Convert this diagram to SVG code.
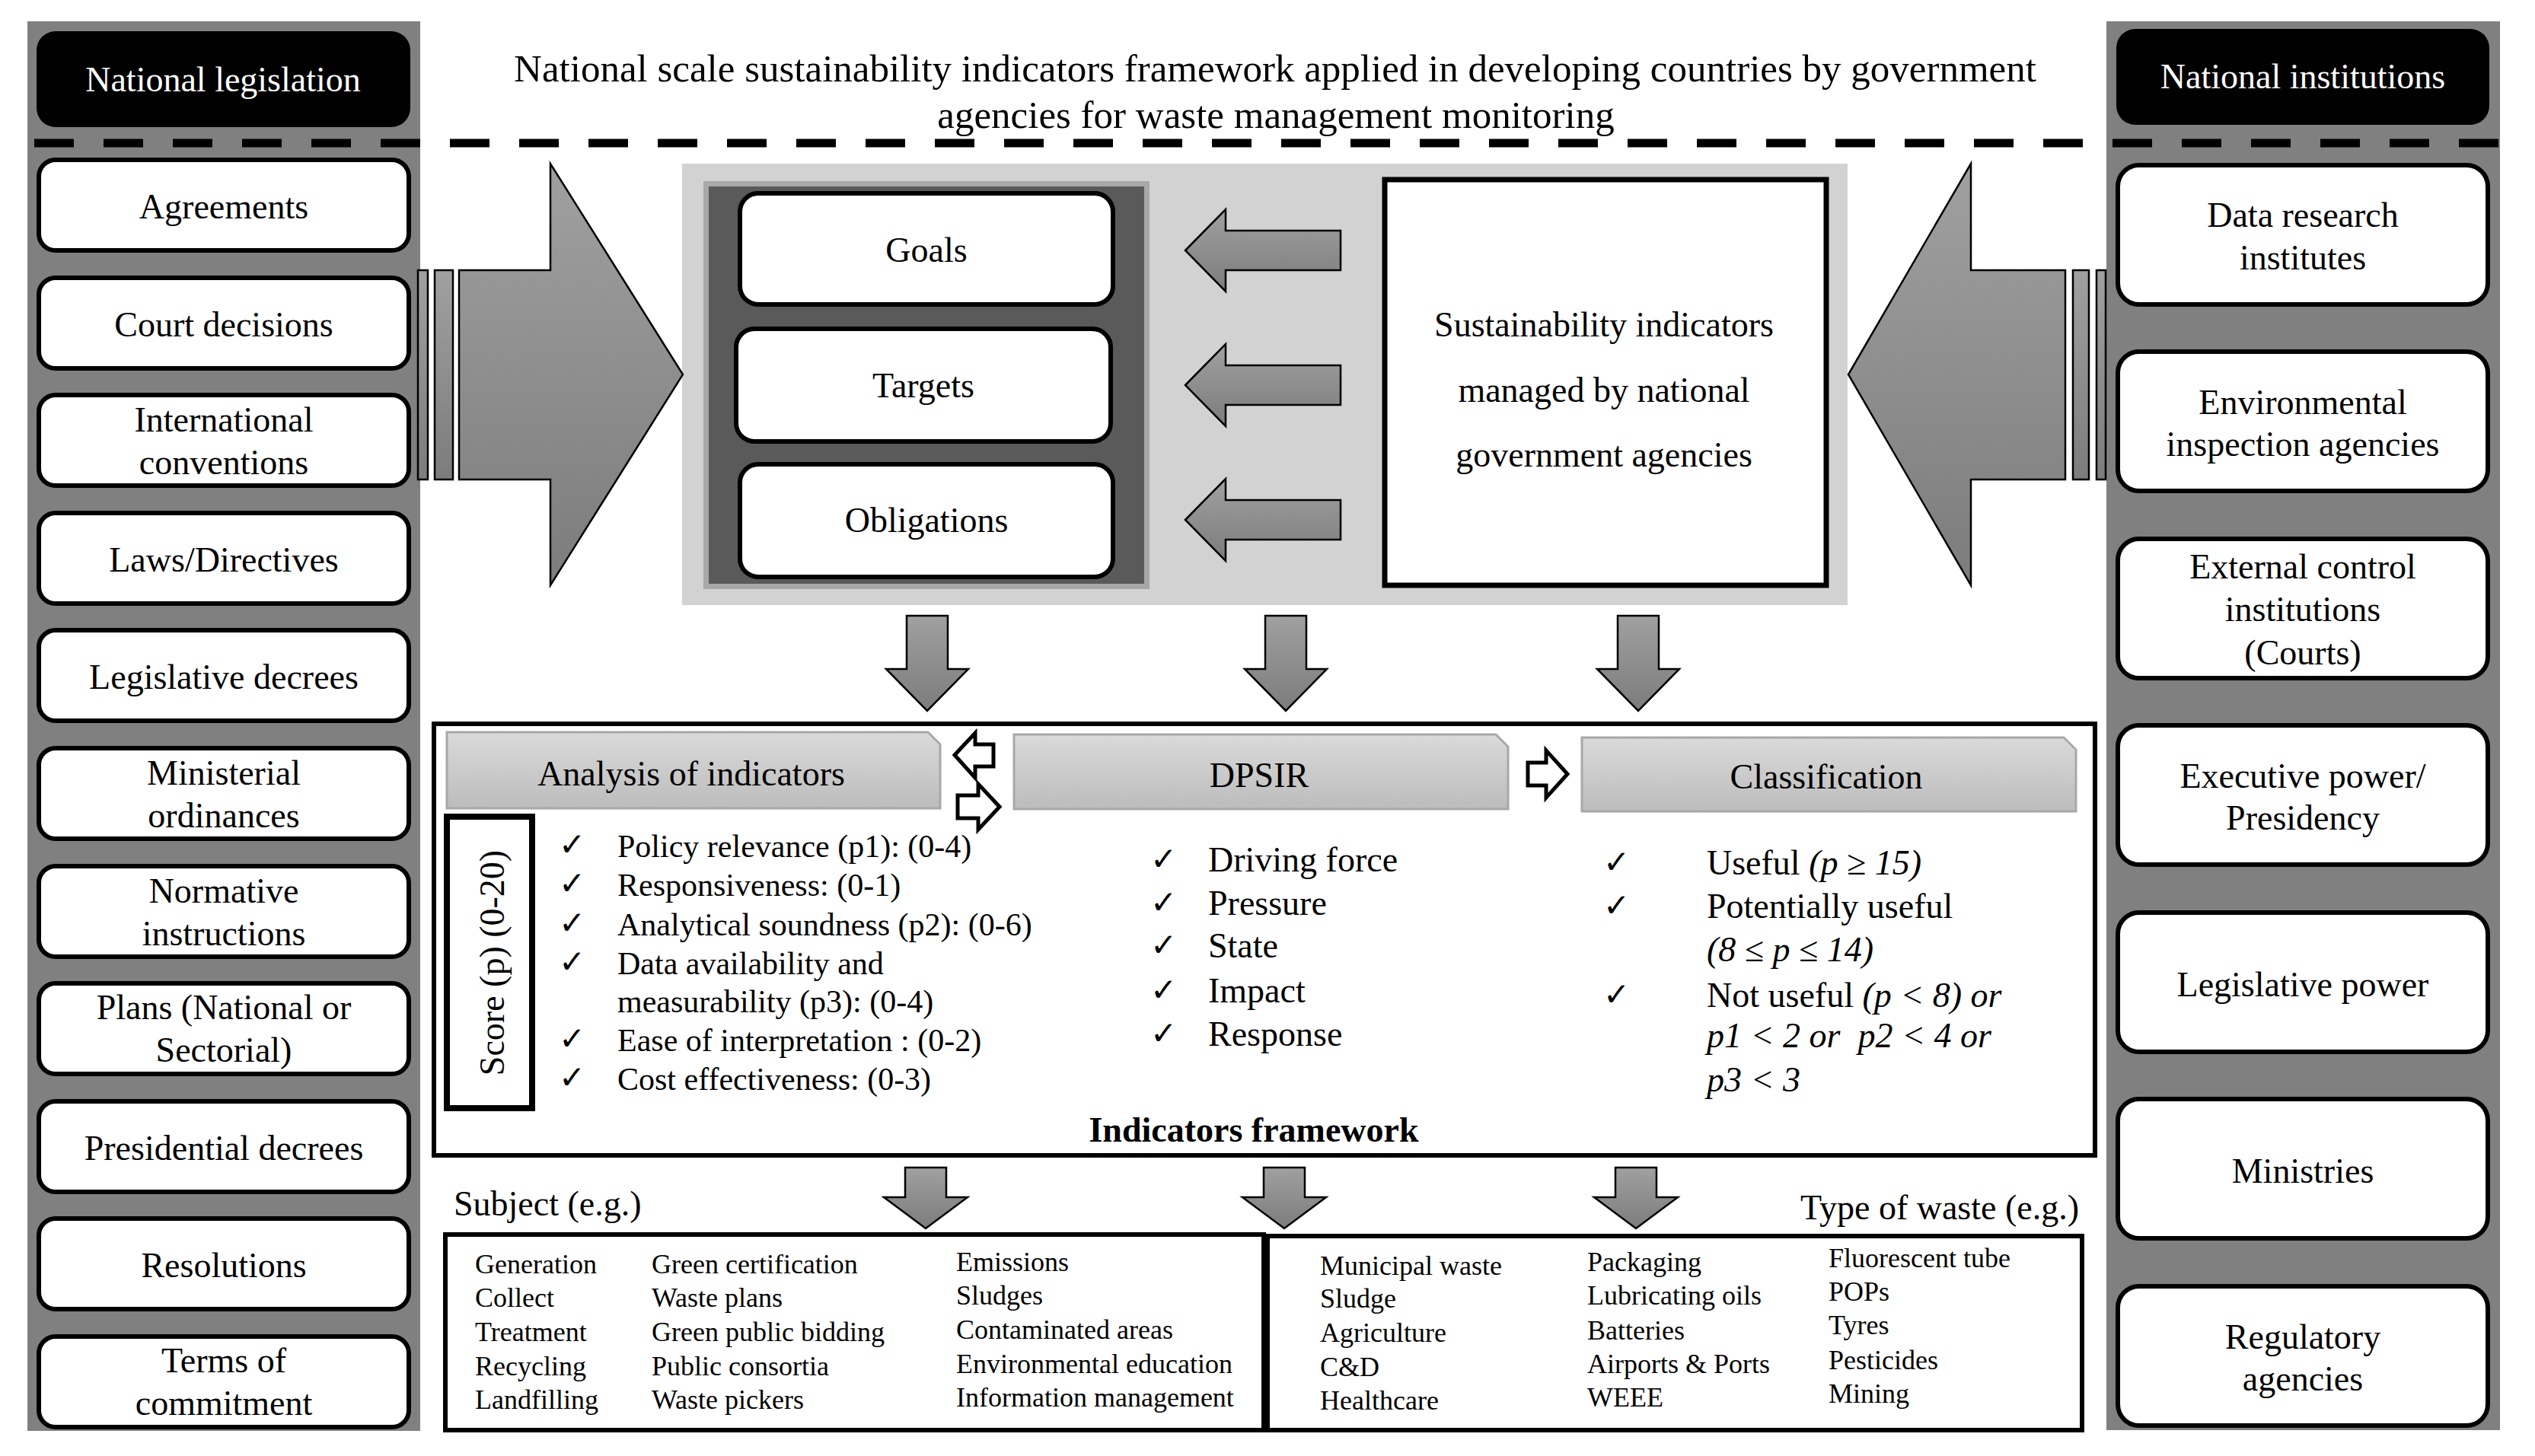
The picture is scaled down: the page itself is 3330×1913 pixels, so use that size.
<svg xmlns="http://www.w3.org/2000/svg" width="3330" height="1913" viewBox="0 0 3330 1913">
<defs>
<linearGradient id="ga" x1="0" y1="0" x2="0" y2="1"><stop offset="0" stop-color="#a0a0a0"/><stop offset="1" stop-color="#7c7c7c"/></linearGradient>
<linearGradient id="gh" x1="0" y1="0" x2="0" y2="1"><stop offset="0" stop-color="#dadada"/><stop offset="1" stop-color="#bcbcbc"/></linearGradient>
</defs>
<style>
text{font-family:"Liberation Serif","Times New Roman",serif;fill:#000}
.lbl{font-size:46px;text-anchor:middle}
.wh{fill:#fff}
.box{fill:#fff;stroke:#000;stroke-width:6}
.panel{fill:#808080}
.arr{fill:url(#ga);stroke:#000;stroke-width:2.5;stroke-linejoin:miter}
.oarr{fill:#fff;stroke:#000;stroke-width:5;stroke-linejoin:miter}
.hdr{fill:url(#gh);stroke:#a8a8a8;stroke-width:3}
.it{font-size:42px}
.it46{font-size:46px}
.ck{font-family:"DejaVu Sans",sans-serif;font-size:42px}
.tb{font-size:36px}
.frame{fill:none;stroke:#000;stroke-width:6}
</style>
<rect width="3330" height="1913" fill="#fff"/>

<g id="left-panel">
<rect class="panel" x="36" y="28" width="516" height="1852"/>
<g id="national-legislation"><rect x="48" y="41" width="491" height="126" rx="25" fill="#000"/><text class="lbl wh" x="293" y="120">National legislation</text></g>
<g id="agreements"><rect class="box" x="51" y="210" width="486" height="119" rx="22"/><text class="lbl" x="294" y="287">Agreements</text></g>
<g id="court-decisions"><rect class="box" x="51" y="365" width="486" height="119" rx="22"/><text class="lbl" x="294" y="442">Court decisions</text></g>
<g id="international-conventions"><rect class="box" x="51" y="519" width="486" height="119" rx="22"/><text class="lbl" x="294" y="567">International</text><text class="lbl" x="294" y="623">conventions</text></g>
<g id="laws-directives"><rect class="box" x="51" y="674" width="486" height="119" rx="22"/><text class="lbl" x="294" y="751">Laws/Directives</text></g>
<g id="legislative-decrees"><rect class="box" x="51" y="828" width="486" height="119" rx="22"/><text class="lbl" x="294" y="905">Legislative decrees</text></g>
<g id="ministerial-ordinances"><rect class="box" x="51" y="983" width="486" height="119" rx="22"/><text class="lbl" x="294" y="1031">Ministerial</text><text class="lbl" x="294" y="1087">ordinances</text></g>
<g id="normative-instructions"><rect class="box" x="51" y="1138" width="486" height="119" rx="22"/><text class="lbl" x="294" y="1186">Normative</text><text class="lbl" x="294" y="1242">instructions</text></g>
<g id="plans"><rect class="box" x="51" y="1292" width="486" height="119" rx="22"/><text class="lbl" x="294" y="1339">Plans (National or</text><text class="lbl" x="294" y="1395">Sectorial)</text></g>
<g id="presidential-decrees"><rect class="box" x="51" y="1447" width="486" height="119" rx="22"/><text class="lbl" x="294" y="1524">Presidential decrees</text></g>
<g id="resolutions"><rect class="box" x="51" y="1601" width="486" height="119" rx="22"/><text class="lbl" x="294" y="1678">Resolutions</text></g>
<g id="terms-of-commitment"><rect class="box" x="51" y="1756" width="486" height="119" rx="22"/><text class="lbl" x="294" y="1803">Terms of</text><text class="lbl" x="294" y="1859">commitment</text></g>
</g>

<g id="right-panel">
<rect class="panel" x="2767" y="28" width="517" height="1851"/>
<g id="national-institutions"><rect x="2780" y="38" width="490" height="126" rx="25" fill="#000"/><text class="lbl wh" x="3025" y="116">National institutions</text></g>
<g id="data-research"><rect class="box" x="2782" y="217" width="486" height="183" rx="28"/><text class="lbl" x="3025" y="298">Data research</text><text class="lbl" x="3025" y="354">institutes</text></g>
<g id="environmental-inspection"><rect class="box" x="2782" y="462" width="486" height="183" rx="28"/><text class="lbl" x="3025" y="544">Environmental</text><text class="lbl" x="3025" y="599">inspection agencies</text></g>
<g id="external-control"><rect class="box" x="2782" y="708" width="486" height="183" rx="28"/><text class="lbl" x="3025" y="760">External control</text><text class="lbl" x="3025" y="816">institutions</text><text class="lbl" x="3025" y="873">(Courts)</text></g>
<g id="executive-power"><rect class="box" x="2782" y="953" width="486" height="183" rx="28"/><text class="lbl" x="3025" y="1035">Executive power/</text><text class="lbl" x="3025" y="1090">Presidency</text></g>
<g id="legislative-power"><rect class="box" x="2782" y="1199" width="486" height="183" rx="28"/><text class="lbl" x="3025" y="1309">Legislative power</text></g>
<g id="ministries"><rect class="box" x="2782" y="1444" width="486" height="183" rx="28"/><text class="lbl" x="3025" y="1554">Ministries</text></g>
<g id="regulatory-agencies"><rect class="box" x="2782" y="1690" width="486" height="183" rx="28"/><text class="lbl" x="3025" y="1772">Regulatory</text><text class="lbl" x="3025" y="1827">agencies</text></g>
</g>

<g id="title">
<text style="font-size:51px;text-anchor:middle" x="1675" y="107">National scale sustainability indicators framework applied in developing countries by government</text>
<text style="font-size:51px;text-anchor:middle" x="1676" y="168">agencies for waste management monitoring</text>
</g>
<line x1="45" y1="188" x2="3294" y2="188" stroke="#000" stroke-width="11" stroke-dasharray="52 39"/>

<g id="policy-block">
<rect x="896" y="215" width="1531" height="580" fill="#d2d2d2"/>
<rect x="927.5" y="241.5" width="579" height="529" fill="#5a5a5a" stroke="#a8a8a8" stroke-width="7"/>
<g id="goals"><rect class="box" x="972" y="254" width="490" height="146" rx="24"/><text class="lbl" x="1217" y="344">Goals</text></g>
<g id="targets"><rect class="box" x="967" y="432" width="492" height="148" rx="24"/><text class="lbl" x="1213" y="522">Targets</text></g>
<g id="obligations"><rect class="box" x="972" y="610" width="490" height="148" rx="24"/><text class="lbl" x="1217" y="699">Obligations</text></g>
<g id="sustainability-indicators"><rect x="1819" y="236" width="580" height="533" fill="#fff" stroke="#000" stroke-width="7"/>
<text class="lbl" x="2107" y="442">Sustainability indicators</text>
<text class="lbl" x="2107" y="528">managed by national</text>
<text class="lbl" x="2107" y="613">government agencies</text></g>
</g>

<g id="indicators-framework">
<rect class="frame" x="570" y="951" width="2182" height="567"/>
<g id="analysis-of-indicators">
<path class="hdr" d="M587,962 H1219 L1235,978 V1062 H587 Z"/>
<text class="lbl" x="908" y="1032">Analysis of indicators</text>
<rect x="587" y="1073" width="112" height="383" fill="#fff" stroke="#000" stroke-width="8"/>
<text class="it46" style="text-anchor:middle" transform="translate(662,1265) rotate(-90)" x="0" y="0">Score (p) (0-20)</text>
<text class="ck" x="734" y="1124">✓</text><text class="it" x="811" y="1126">Policy relevance (p1): (0-4)</text>
<text class="ck" x="734" y="1175">✓</text><text class="it" x="811" y="1177">Responsiveness: (0-1)</text>
<text class="ck" x="734" y="1227">✓</text><text class="it" x="811" y="1229">Analytical soundness (p2): (0-6)</text>
<text class="ck" x="734" y="1278">✓</text><text class="it" x="811" y="1280">Data availability and</text>
<text class="it" x="811" y="1330">measurability (p3): (0-4)</text>
<text class="ck" x="734" y="1379">✓</text><text class="it" x="811" y="1381">Ease of interpretation : (0-2)</text>
<text class="ck" x="734" y="1430">✓</text><text class="it" x="811" y="1432">Cost effectiveness: (0-3)</text>
</g>
<g id="dpsir">
<path class="hdr" d="M1332,965 H1965 L1981,981 V1063 H1332 Z"/>
<text class="lbl" x="1654" y="1034">DPSIR</text>
<text class="ck" x="1511" y="1143">✓</text><text class="it46" x="1587" y="1145">Driving force</text>
<text class="ck" x="1511" y="1200">✓</text><text class="it46" x="1587" y="1202">Pressure</text>
<text class="ck" x="1511" y="1256">✓</text><text class="it46" x="1587" y="1258">State</text>
<text class="ck" x="1511" y="1315">✓</text><text class="it46" x="1587" y="1317">Impact</text>
<text class="ck" x="1511" y="1372">✓</text><text class="it46" x="1587" y="1374">Response</text>
</g>
<g id="classification">
<path class="hdr" d="M2078,969 H2711 L2727,985 V1066 H2078 Z"/>
<text class="lbl" x="2399" y="1036">Classification</text>
<text class="ck" x="2106" y="1147">✓</text><text class="it46" x="2242" y="1149">Useful <tspan font-style="italic">(p ≥ 15)</tspan></text>
<text class="ck" x="2106" y="1204">✓</text><text class="it46" x="2242" y="1206">Potentially useful</text>
<text class="it46" x="2242" y="1263" font-style="italic">(8 ≤ p ≤ 14)</text>
<text class="ck" x="2106" y="1321">✓</text><text class="it46" x="2242" y="1323">Not useful <tspan font-style="italic">(p &lt; 8) or</tspan></text>
<text class="it46" x="2242" y="1376" font-style="italic">p1 &lt; 2 or &#160;p2 &lt; 4 or</text>
<text class="it46" x="2242" y="1434" font-style="italic">p3 &lt; 3</text>
</g>
<text x="1647" y="1500" style="font-size:46px;font-weight:bold;text-anchor:middle">Indicators framework</text>
</g>

<g id="subject-table">
<text x="596" y="1597" style="font-size:46px">Subject (e.g.)</text>
<rect class="frame" x="585" y="1622" width="1075" height="257"/>
<text class="tb" x="624" y="1673">Generation</text><text class="tb" x="624" y="1717">Collect</text><text class="tb" x="624" y="1762">Treatment</text><text class="tb" x="624" y="1807">Recycling</text><text class="tb" x="624" y="1851">Landfilling</text>
<text class="tb" x="856" y="1673">Green certification</text><text class="tb" x="856" y="1717">Waste plans</text><text class="tb" x="856" y="1762">Green public bidding</text><text class="tb" x="856" y="1807">Public consortia</text><text class="tb" x="856" y="1851">Waste pickers</text>
<text class="tb" x="1256" y="1670">Emissions</text><text class="tb" x="1256" y="1714">Sludges</text><text class="tb" x="1256" y="1759">Contaminated areas</text><text class="tb" x="1256" y="1804">Environmental education</text><text class="tb" x="1256" y="1848">Information management</text>
</g>

<g id="waste-table">
<text x="2731" y="1602" style="font-size:46px;text-anchor:end">Type of waste (e.g.)</text>
<rect class="frame" x="1665" y="1624" width="1070" height="255"/>
<text class="tb" x="1734" y="1675">Municipal waste</text><text class="tb" x="1734" y="1718">Sludge</text><text class="tb" x="1734" y="1763">Agriculture</text><text class="tb" x="1734" y="1808">C&amp;D</text><text class="tb" x="1734" y="1852">Healthcare</text>
<text class="tb" x="2085" y="1670">Packaging</text><text class="tb" x="2085" y="1714">Lubricating oils</text><text class="tb" x="2085" y="1760">Batteries</text><text class="tb" x="2085" y="1804">Airports &amp; Ports</text><text class="tb" x="2085" y="1848">WEEE</text>
<text class="tb" x="2402" y="1665">Fluorescent tube</text><text class="tb" x="2402" y="1709">POPs</text><text class="tb" x="2402" y="1753">Tyres</text><text class="tb" x="2402" y="1799">Pesticides</text><text class="tb" x="2402" y="1843">Mining</text>
</g>

<g id="connectors">
<rect class="arr" x="549" y="355" width="13" height="275"/>
<rect class="arr" x="571" y="355" width="24" height="275"/>
<path class="arr" d="M603,355 H723 V215 L897,492 L723,769 V630 H603 Z"/>
<rect class="arr" x="2754" y="355" width="12" height="275"/>
<rect class="arr" x="2723" y="355" width="21" height="275"/>
<path class="arr" d="M2713,355 H2589 V215 L2428,492 L2589,769 V630 H2713 Z"/>
<path class="arr" d="M1557,329 L1610,275 V303 H1761 V355 H1610 V383 Z"/>
<path class="arr" d="M1557,506 L1610,452 V480 H1761 V532 H1610 V560 Z"/>
<path class="arr" d="M1557,683 L1610,629 V657 H1761 V709 H1610 V737 Z"/>
<path class="arr" d="M1191,809 H1245 V879 H1272 L1218,934 L1164,879 H1191 Z"/>
<path class="arr" d="M1662,809 H1716 V879 H1743 L1689,934 L1635,879 H1662 Z"/>
<path class="arr" d="M2125,809 H2179 V879 H2206 L2152,934 L2098,879 H2125 Z"/>
<path class="oarr" d="M1254,992 L1281,963 V978 H1305 V1007 H1281 V1022 Z"/>
<path class="oarr" d="M1313,1060 L1285,1030 V1045 H1258 V1075 H1285 V1090 Z"/>
<path class="oarr" d="M2059,1017 L2031,986 V1002 H2007 V1032 H2031 V1048 Z"/>
<path class="arr" d="M1189,1534 H1243 V1573 H1271 L1216,1614 L1161,1573 H1189 Z"/>
<path class="arr" d="M1660,1534 H1714 V1573 H1742 L1687,1614 L1632,1573 H1660 Z"/>
<path class="arr" d="M2122,1534 H2176 V1573 H2204 L2149,1614 L2094,1573 H2122 Z"/>
</g>
</svg>
